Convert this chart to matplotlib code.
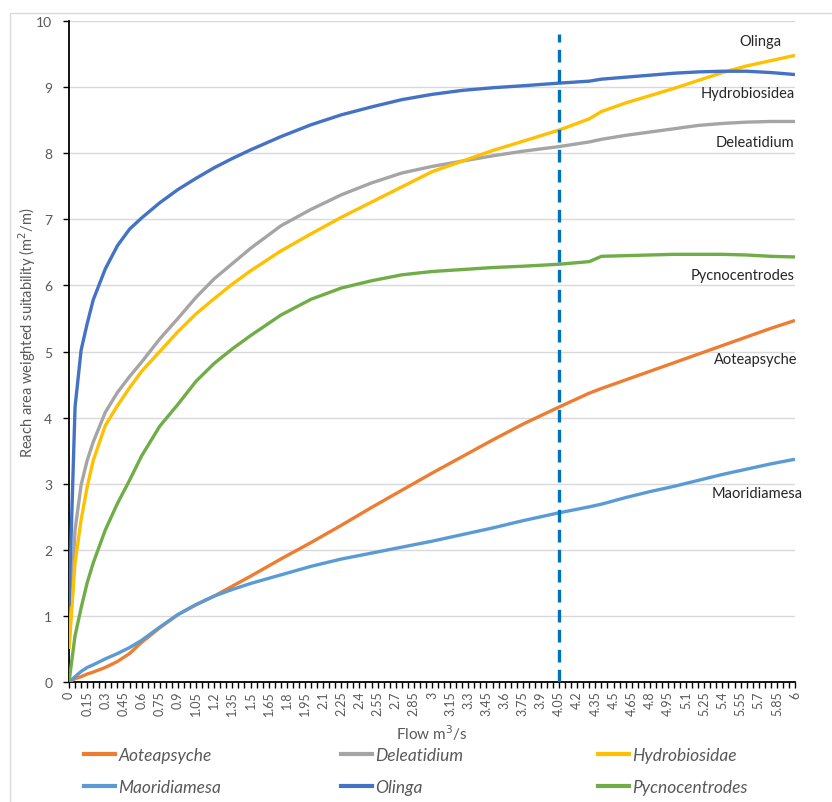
import matplotlib
matplotlib.use('Agg')
import matplotlib.pyplot as plt
from matplotlib.patches import Rectangle
from matplotlib.ticker import MultipleLocator, FixedLocator
from matplotlib.lines import Line2D

plt.rcParams['font.family'] = ['Lato', 'DejaVu Sans']

# flow (m3/s) at which the habitat curves were sampled
flow = [0, 0.05, 0.1, 0.15, 0.2, 0.3, 0.4, 0.5, 0.6, 0.75, 0.9, 1.05, 1.2, 1.35, 1.5,
        1.75, 2.0, 2.25, 2.5, 2.75, 3.0, 3.25, 3.5, 3.75, 4.05, 4.3, 4.4, 4.6, 4.8,
        5.0, 5.2, 5.4, 5.6, 5.8, 6.0]

aoteapsyche = [0, 0.05, 0.08, 0.12, 0.15, 0.22, 0.31, 0.43, 0.6, 0.82, 1.02, 1.17, 1.3,
               1.45, 1.6, 1.86, 2.11, 2.37, 2.64, 2.9, 3.16, 3.41, 3.66, 3.9, 4.16,
               4.37, 4.44, 4.57, 4.7, 4.83, 4.96, 5.09, 5.22, 5.35, 5.47]
deleatidium = [0.57, 2.3, 2.98, 3.35, 3.63, 4.08, 4.38, 4.62, 4.84, 5.19, 5.5, 5.82, 6.1,
               6.33, 6.56, 6.9, 7.15, 7.37, 7.55, 7.7, 7.8, 7.88, 7.96, 8.03, 8.1, 8.17,
               8.21, 8.27, 8.32, 8.37, 8.42, 8.45, 8.47, 8.48, 8.48]
hydrobiosidae = [0.5, 1.8, 2.45, 2.95, 3.35, 3.88, 4.18, 4.45, 4.7, 5.0, 5.3, 5.57, 5.8,
                 6.02, 6.22, 6.52, 6.78, 7.03, 7.26, 7.49, 7.72, 7.88, 8.04, 8.18, 8.35,
                 8.52, 8.63, 8.76, 8.87, 8.98, 9.1, 9.22, 9.32, 9.4, 9.48]
maoridiamesa = [0, 0.08, 0.16, 0.22, 0.26, 0.35, 0.43, 0.52, 0.63, 0.83, 1.02, 1.17, 1.3,
                1.4, 1.49, 1.62, 1.75, 1.86, 1.95, 2.04, 2.13, 2.23, 2.33, 2.44, 2.56,
                2.65, 2.69, 2.79, 2.88, 2.96, 3.05, 3.14, 3.22, 3.3, 3.37]
olinga = [1.15, 4.16, 5.02, 5.42, 5.78, 6.25, 6.6, 6.85, 7.02, 7.25, 7.45, 7.62, 7.78, 7.92,
          8.05, 8.25, 8.43, 8.58, 8.7, 8.81, 8.89, 8.95, 8.99, 9.02, 9.06, 9.09, 9.12,
          9.15, 9.18, 9.21, 9.23, 9.24, 9.24, 9.22, 9.19]
pycnocentrodes = [0, 0.7, 1.12, 1.5, 1.8, 2.3, 2.7, 3.05, 3.42, 3.87, 4.2, 4.55, 4.82,
                  5.04, 5.24, 5.55, 5.79, 5.96, 6.07, 6.16, 6.21, 6.24, 6.27, 6.29, 6.32,
                  6.36, 6.44, 6.45, 6.46, 6.47, 6.47, 6.47, 6.46, 6.44, 6.43]

series = [
    ('Aoteapsyche', aoteapsyche, '#ED7D31'),
    ('Deleatidium', deleatidium, '#A5A5A5'),
    ('Hydrobiosidae', hydrobiosidae, '#FFC000'),
    ('Maoridiamesa', maoridiamesa, '#5B9BD5'),
    ('Olinga', olinga, '#4472C4'),
    ('Pycnocentrodes', pycnocentrodes, '#70AD47'),
]

# names written at the right-hand end of each curve
end_labels = ['Olinga', 'Hydrobiosidea', 'Deleatidium', 'Pycnocentrodes',
              'Aoteapsyche', 'Maoridiamesa']
end_label_x = [5.89, 6.0, 5.99, 6.0, 6.02, 6.06]
end_label_y = [9.70, 8.91, 8.17, 6.16, 4.89, 2.86]

current_flow = 4.05
x_ticks = [round(i * 0.15, 2) for i in range(41)]
x_tick_labels = ['{:g}'.format(v) for v in x_ticks]

W, H = 832, 803
fig = plt.figure(figsize=(W / 100, H / 100), dpi=100)
ax = fig.add_axes([69 / W, (H - 683) / H, (795 - 69) / W, (683 - 22) / H])

# chart area border
fig.patches.append(Rectangle((10 / W, -0.1), 1.2, (H - 14) / H + 0.1,
                             transform=fig.transFigure, fill=False,
                             edgecolor='#d9d9d9', lw=1))

for name, vals, col in series:
    ax.plot(flow, vals, color=col, lw=2.4, label=name, solid_capstyle='butt', zorder=3)

ax.plot([current_flow, current_flow], [0, 9.8], color='#0070C0', lw=2.4,
        dashes=(3.8, 2.2), zorder=4)

ax.set_xlim(0, 6)
ax.set_ylim(0, 10)
ax.yaxis.set_major_locator(MultipleLocator(1))
ax.xaxis.set_major_locator(FixedLocator(x_ticks))
ax.set_xticklabels(x_tick_labels, rotation=90)
ax.xaxis.set_minor_locator(MultipleLocator(0.05))
ax.grid(axis='y', color='#d9d9d9', lw=1)
ax.set_axisbelow(True)

for s in ['top', 'right']:
    ax.spines[s].set_visible(False)
for s in ['left', 'bottom']:
    ax.spines[s].set_color('black')
    ax.spines[s].set_linewidth(1.3)

ax.tick_params(axis='x', which='both', direction='out', length=4, width=1,
               color='black', labelsize=9, labelcolor='#595959', pad=2)
ax.tick_params(axis='y', direction='out', length=4, width=1, color='black',
               labelsize=10, labelcolor='#595959', pad=8)

fig.text(432 / W, 1 - 733 / H, 'Flow m$^3$/s', ha='center', va='center',
         fontsize=11, color='#595959')
fig.text(27 / W, 1 - 333 / H, 'Reach area weighted suitability (m$^2$/m)',
         ha='center', va='center', rotation=90, fontsize=10.5, color='#595959')

for txt, tx, ty in zip(end_labels, end_label_x, end_label_y):
    ax.text(tx, ty, txt, ha='right', va='center', fontsize=10.5, color='#262626',
            clip_on=False)

# legend: three columns of two entries each
col_x = [84, 341, 598]
for c in range(3):
    hs = []
    for r in range(2):
        name, vals, col = series[r * 3 + c]
        hs.append(Line2D([], [], color=col, lw=3, label=name))
    fig.legend(handles=hs, loc='upper left', bbox_to_anchor=(col_x[c] / W, 1 - 748 / H),
               frameon=False, borderpad=0, borderaxespad=0, handlelength=1.8,
               handletextpad=0.18, labelspacing=0.95,
               prop={'style': 'italic', 'size': 12.5}, labelcolor='#595959')

fig.savefig('out.png', dpi=100)
